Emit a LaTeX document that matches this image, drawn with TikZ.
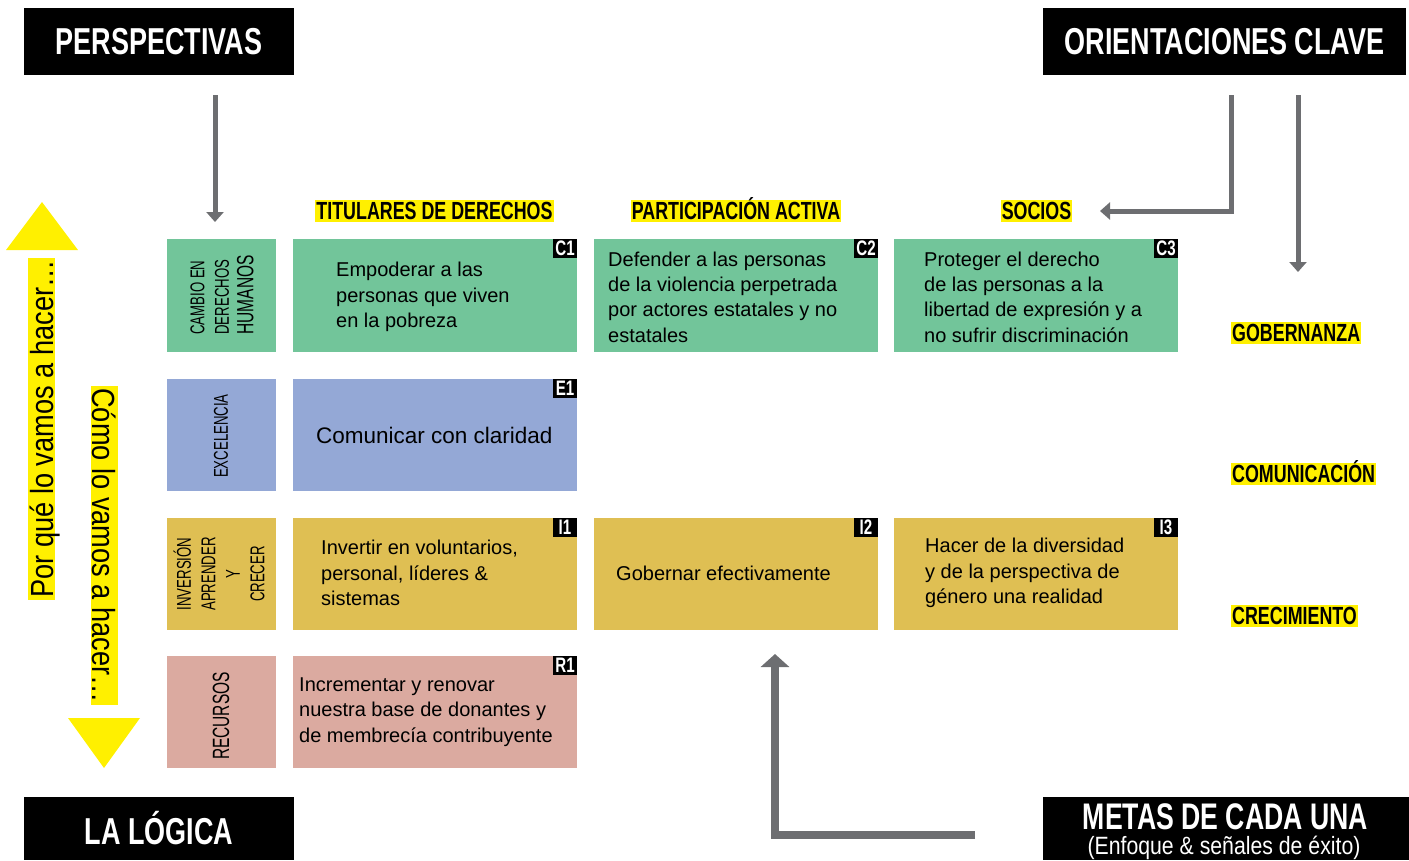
\documentclass[tikz,border=0pt]{standalone}
\usepackage{fontspec}
\setmainfont{Liberation Sans}
\newfontfamily\headfont[FakeStretch=0.72]{Liberation Sans}
\newfontfamily\condfont[FakeStretch=0.66]{Liberation Sans}
\newfontfamily\sidefont[FakeStretch=0.85]{Liberation Sans}
\usetikzlibrary{arrows.meta, positioning}
\definecolor{CellGreen}{RGB}{114,197,154}
\definecolor{CellBlue}{RGB}{148,168,214}
\definecolor{CellGold}{RGB}{223,191,83}
\definecolor{CellPink}{RGB}{219,170,160}
\definecolor{MarkYellow}{RGB}{255,240,0}
\definecolor{ArrowGray}{RGB}{109,110,113}
\tikzstyle{headbox} = [fill=black, text=white, inner sep=0pt, font=\headfont\bfseries\fontsize{37.5}{40}\selectfont]
\tikzstyle{cell} = [inner sep=0pt, minimum height=112.5pt]
\tikzstyle{badge} = [fill=black, text=white, inner sep=0pt, minimum width=24pt, minimum height=19pt, anchor=north east, font=\headfont\bfseries\fontsize{21}{21}\selectfont]
\tikzstyle{hilite} = [fill=MarkYellow, inner xsep=1pt, inner ysep=2.3pt, text height=17.6pt, text depth=0pt, font=\headfont\bfseries\fontsize{24.8}{24.8}\selectfont]
\tikzstyle{sidelabel} = [fill=MarkYellow, inner xsep=2pt, inner ysep=2pt, text height=23pt, text depth=0pt, font=\sidefont\fontsize{32}{32}\selectfont]
\tikzstyle{body} = [align=left, anchor=west, inner sep=0pt, font=\fontsize{20}{25.3}\selectfont]
\tikzstyle{catlabel} = [rotate=90, inner sep=0pt, font=\condfont\fontsize{20}{24.5}\selectfont]
\tikzstyle{flow} = [ArrowGray, line width=5pt, -{Triangle[width=17pt,length=10pt]}]

\begin{document}
\begin{tikzpicture}[x=1pt, y=-1pt]
    \useasboundingbox (0,0) rectangle (1409,860);

    % title boxes
    \node[headbox, minimum width=270pt, minimum height=67pt] (persp) at (159,41.5) {PERSPECTIVAS};
    \node[headbox, minimum width=363pt, minimum height=67pt] (orient) at (1224.5,41.5) {ORIENTACIONES CLAVE};
    \node[headbox, minimum width=270pt, minimum height=63pt] (logic) at (159,828.5) {LA LÓGICA};
    \node[fill=black, inner sep=0pt, minimum width=366pt, minimum height=63pt] (metas) at (1226,828.5) {};
    \node[anchor=base, text=white, inner sep=0pt, font=\headfont\bfseries\fontsize{37}{37}\selectfont] (metas-title) at (1225.5,829) {METAS DE CADA UNA};
    \node[anchor=base, text=white, inner sep=0pt, font=\sidefont\fontsize{25}{25}\selectfont] (metas-sub) at (1224,854.5) {(Enfoque \& señales de éxito)};

    % why / how
    \fill[MarkYellow] (6,250) -- (78,250) -- (42,202) -- cycle;
    \fill[MarkYellow] (68,718) -- (140,718) -- (104,768) -- cycle;
    \node[sidelabel, rotate=90] (why) at (41.5,429) {Por qué lo vamos a hacer…};
    \node[sidelabel, rotate=-90] (how) at (104,545.5) {Cómo lo vamos a hacer…};

    % column and row headings
    \node[hilite] (h-titulares) at (434.5,211) {TITULARES DE DERECHOS};
    \node[hilite] (h-participacion) at (736,211) {PARTICIPACIÓN ACTIVA};
    \node[hilite] (h-socios) at (1036.5,211) {SOCIOS};
    \node[hilite, anchor=west] (r-gob) at (1231,333) {GOBERNANZA};
    \node[hilite, anchor=west] (r-com) at (1231,474) {COMUNICACIÓN};
    \node[hilite, anchor=west] (r-cre) at (1231,616) {CRECIMIENTO};

    % category cells
    \foreach \name/\y/\col in {cat-c/295.5/CellGreen, cat-e/435/CellBlue, cat-i/574/CellGold, cat-r/712/CellPink}
        \node[cell, fill=\col, minimum width=109pt] (\name) at (221.5,\y) {};
    \node[catlabel, align=left] at (222,295) {CAMBIO EN\\DERECHOS\\{\fontsize{23.5}{24.5}\selectfont HUMANOS}};
    \node[catlabel] at (221,436) {EXCELENCIA};
    \node[catlabel, align=center] at (219,574) {INVERSIÓN\\APRENDER\\Y\\CRECER};
    \node[catlabel, font=\condfont\fontsize{23.5}{24.5}\selectfont] at (221,716) {RECURSOS};

    % goal cells
    \foreach \name/\tag/\x/\y/\col in {c1/C1/435/295.5/CellGreen, c2/C2/736/295.5/CellGreen, c3/C3/1036/295.5/CellGreen,
                                      e1/E1/435/435/CellBlue,
                                      i1/I1/435/574/CellGold, i2/I2/736/574/CellGold, i3/I3/1036/574/CellGold,
                                      r1/R1/435/712/CellPink} {
        \node[cell, fill=\col, minimum width=284pt] (\name) at (\x,\y) {};
        \node[badge] at (\name.north east) {\tag};
    }
    \node[body] at (336,297) {Empoderar a las\\personas que viven\\en la pobreza};
    \node[body] at (608,297) {Defender a las personas\\de la violencia perpetrada\\por actores estatales y no\\estatales};
    \node[body] at (924,297) {Proteger el derecho\\de las personas a la\\libertad de expresión y a\\no sufrir discriminación};
    \node[body, font=\fontsize{22.5}{25.3}\selectfont] at (316,435) {Comunicar con claridad};
    \node[body] at (321,573) {Invertir en voluntarios,\\personal, líderes \&\\sistemas};
    \node[body] at (616,573) {Gobernar efectivamente};
    \node[body] at (925,573) {Hacer de la diversidad\\y de la perspectiva de\\género una realidad};
    \node[body] at (299,712) {Incrementar y renovar\\nuestra base de donantes y\\de membrecía contribuyente};

    % arrows
    \coordinate (p-from) at (215,95);
    \coordinate (p-to) at (215,222);
    \coordinate (o-from) at (1231,95);
    \coordinate (o-to) at (1100,211);
    \coordinate (g-from) at (1298,95);
    \coordinate (g-to) at (1298,272);
    \coordinate (m-from) at (975,835);
    \coordinate (m-to) at (775,654);
    \draw[flow] (p-from) -- (p-to);
    \draw[flow] (o-from) |- (o-to);
    \draw[flow] (g-from) -- (g-to);
    \draw[flow, line width=8pt, -{Triangle[width=28pt,length=13pt]}] (m-from) -| (m-to);
\end{tikzpicture}
\end{document}
